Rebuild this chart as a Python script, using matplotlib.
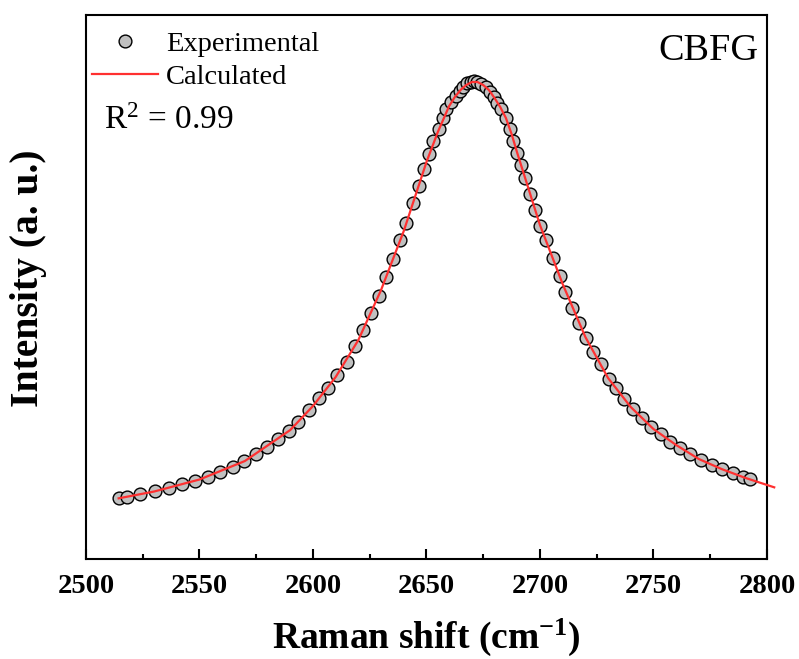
import matplotlib

matplotlib.use("Agg")
import matplotlib.pyplot as plt
from matplotlib.ticker import MultipleLocator

# experimental Raman points (cm-1, arbitrary intensity)
exp_shift = [
    2514.4, 2518.1, 2524.0, 2530.3, 2536.4, 2542.3, 2548.2, 2553.6, 2559.1, 2564.7,
    2569.8, 2574.8, 2579.7, 2584.5, 2589.5, 2593.6, 2598.3, 2602.8, 2606.8, 2610.7,
    2614.9, 2618.5, 2622.2, 2625.7, 2628.9, 2632.1, 2635.4, 2638.3, 2641.2, 2643.9,
    2646.8, 2648.9, 2651.2, 2653.0, 2655.6, 2657.1, 2658.8, 2661.0, 2662.9, 2664.7,
    2666.1, 2667.9, 2669.4, 2670.8, 2672.3, 2674.2, 2676.1, 2677.9, 2679.6, 2681.1,
    2683.0, 2684.9, 2686.7, 2688.1, 2689.9, 2691.8, 2693.5, 2695.5, 2697.7, 2700.2,
    2702.8, 2705.6, 2708.7, 2710.9, 2714.1, 2717.0, 2720.1, 2723.3, 2726.7, 2730.3,
    2733.7, 2737.2, 2741.2, 2745.0, 2749.0, 2753.4, 2757.5, 2761.9, 2766.1, 2771.0,
    2775.6, 2780.2, 2784.9, 2789.6, 2792.5,
]
exp_int = [
    60.7, 61.7, 65.0, 68.0, 71.3, 74.7, 78.3, 82.3, 87.0, 92.3,
    98.0, 104.7, 111.7, 119.7, 128.0, 137.3, 149.0, 160.7, 170.7, 184.0,
    197.3, 213.0, 229.0, 245.7, 263.0, 281.7, 299.7, 319.0, 336.3, 355.7,
    373.0, 389.7, 405.0, 418.3, 429.7, 440.7, 449.7, 457.3, 463.0, 468.3,
    472.3, 475.7, 477.3, 478.0, 477.3, 475.0, 471.7, 467.3, 462.3, 456.3,
    449.7, 440.7, 429.7, 418.3, 406.3, 394.0, 380.7, 364.7, 349.0, 333.0,
    319.0, 301.0, 283.0, 267.3, 251.3, 235.7, 221.3, 207.3, 194.7, 180.0,
    170.7, 160.0, 150.0, 140.7, 132.3, 124.7, 117.3, 110.7, 105.0, 99.0,
    94.0, 89.7, 85.7, 81.7, 79.7,
]

# fitted curve
fit_shift = [
    2514.4, 2530, 2550, 2570, 2590, 2600, 2610, 2620, 2630, 2640,
    2650, 2655, 2660, 2662.5, 2665, 2667.5, 2670, 2672.5, 2675, 2677.5,
    2680, 2682.5, 2685, 2687.5, 2690, 2700, 2710, 2720, 2730, 2740,
    2750, 2760, 2770, 2780, 2790, 2803.2,
]
fit_int = [
    60.7, 67.5, 79.5, 98, 129, 153, 182, 219, 269, 328,
    397, 427, 453, 462, 469, 474, 477, 477, 474, 469,
    461, 452, 441, 425, 406, 334, 275, 222, 181, 152,
    130, 114, 100, 90, 81.5, 71.7,
]

plt.rcParams["font.family"] = ["Liberation Serif", "DejaVu Serif"]
plt.rcParams["mathtext.fontset"] = "custom"
plt.rcParams["mathtext.rm"] = "Liberation Serif"
plt.rcParams["mathtext.it"] = "Liberation Serif:italic"
plt.rcParams["mathtext.bf"] = "Liberation Serif:bold"

fig = plt.figure(figsize=(7.99, 6.59), dpi=100)
ax = fig.add_axes([0.1076, 0.1517, 0.8523, 0.8255])

ax.plot(exp_shift, exp_int, "o", ms=9.2, mfc="#c0c0c0", mec="black", mew=1.0,
        label="Experimental", zorder=2)
ax.plot(fit_shift, fit_int, "-", color="#ff3030", lw=1.6, label="Calculated",
        clip_on=False, zorder=3)

ax.set_xlim(2500, 2800)
ax.set_ylim(0, 544)
ax.xaxis.set_major_locator(MultipleLocator(50))
ax.xaxis.set_minor_locator(MultipleLocator(25))
ax.set_yticks([])
ax.tick_params(axis="x", which="major", direction="in", length=7, width=1.5,
               labelsize=20.5, pad=11)
ax.tick_params(axis="x", which="minor", direction="in", length=3.5, width=1.5)
for lab in ax.get_xticklabels():
    lab.set_fontweight("bold")
for sp in ax.spines.values():
    sp.set_linewidth(1.5)

ax.set_xlabel(r"Raman shift (cm$^{\mathbf{-1}}$)", fontsize=27, fontweight="bold")
ax.xaxis.set_label_coords(0.5, -0.106)
ax.set_ylabel("Intensity (a. u.)", fontsize=28.5, fontweight="bold")
ax.yaxis.set_label_coords(-0.057, 0.517)

ax.legend(loc="upper left", bbox_to_anchor=(0.009, 0.97), frameon=False,
          fontsize=20.5, handlelength=2.3, handletextpad=0.3, labelspacing=0.25,
          borderpad=0, borderaxespad=0)
ax.text(0.027, 0.79, r"R$^2$ = 0.99", transform=ax.transAxes, fontsize=24,
        va="baseline", ha="left")
ax.text(0.988, 0.935, "CBFG", transform=ax.transAxes, fontsize=27.5,
        va="center", ha="right")

fig.savefig("out.png", dpi=100)
